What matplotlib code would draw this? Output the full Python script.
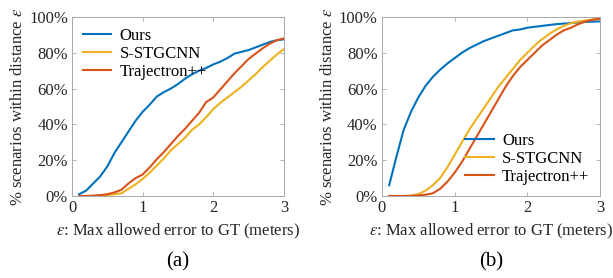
import matplotlib
matplotlib.use('Agg')
import matplotlib.pyplot as plt
import numpy as np
from matplotlib.ticker import PercentFormatter

plt.rcParams['font.family'] = ['Liberation Serif', 'DejaVu Serif']
plt.rcParams['mathtext.fontset'] = 'stix'

x = [round(0.1 * i, 1) for i in range(1, 31)]

# (a)
ours_a = [1, 3, 7, 11, 16.5, 24, 30, 36, 42, 47, 51, 55.5, 58, 60, 62.5, 65.5, 68, 70, 71.5, 73.5,
          75, 77, 79.5, 80.5, 81.5, 83, 84.5, 86, 87, 87.5]
sstgcnn_a = [0, 0, 0, 0.2, 0.5, 1, 1.5, 4, 6.5, 9.5, 13, 17, 21, 25.5, 29, 32.5, 37, 40, 44, 48.5,
             52, 55, 58, 61, 64.5, 68, 72, 75.5, 79, 82]
trajpp_a = [0, 0, 0.2, 0.5, 1, 2, 3.5, 7, 10, 12, 16, 20.5, 24.5, 29, 33.5, 37.5, 42, 46.5, 52.5, 55,
            59.5, 64, 68.5, 72.5, 76.5, 79.5, 82.5, 85, 87, 88]

# (b)
ours_b = [6, 22, 37, 47, 55, 61.5, 66.5, 70.5, 74, 77, 80, 82.5, 84.5, 86.5, 88, 89.5, 91, 92.5, 93, 94,
          94.5, 95, 95.5, 96, 96.3, 96.6, 97, 97.2, 97.4, 97.5]
sstgcnn_b = [0, 0, 0, 0.3, 1, 3, 6, 10, 16, 23, 30, 37, 43, 49, 55, 61, 66, 71, 76, 80,
             84, 87.5, 90.5, 93, 95, 96.5, 97.5, 98, 98.5, 99]
trajpp_b = [0, 0, 0, 0, 0.3, 0.7, 1.5, 4, 8, 13, 19, 26, 33, 40, 47, 54, 61, 67, 72, 76,
            80, 84, 87, 90, 92.5, 94, 96, 97.5, 98.5, 99]

labels = ['Ours', 'S-STGCNN', 'Trajectron++']
colors = ['#0072BD', '#EDB120', '#D95319']

fig = plt.figure(figsize=(6.13, 2.78), dpi=100)
ax1 = fig.add_axes([0.1175, 0.295, 0.3455, 0.644])
ax2 = fig.add_axes([0.623, 0.295, 0.356, 0.644])

def draw(ax, series, legend_loc, tag):
    for ys, lab, c in zip(series, labels, colors):
        ax.plot(x, ys, color=c, lw=1.5, label=lab)
    ax.set_xlim(0, 3)
    ax.set_ylim(0, 100)
    ax.set_xticks([0, 1, 2, 3])
    ax.set_yticks([0, 20, 40, 60, 80, 100])
    ax.yaxis.set_major_formatter(PercentFormatter(decimals=0))
    ax.tick_params(direction='in', length=3, width=0.6, color='#a8a8a8',
                   labelsize=12, labelcolor='#262626', top=True, right=True, pad=3)
    for s in ax.spines.values():
        s.set_color('#a8a8a8')
        s.set_linewidth(0.7)
    ax.set_xlabel(r'$\epsilon$: Max allowed error to GT (meters)', fontsize=12, color='#262626', labelpad=4)
    ax.set_ylabel(r'% scenarios within distance $\epsilon$', fontsize=12, color='#262626', labelpad=2)
    ax.legend(loc=legend_loc, frameon=False, fontsize=12, handlelength=1.7,
              handletextpad=0.5, labelspacing=0.12, borderaxespad=0.25)
    ax.text(0.5, -0.37, tag, transform=ax.transAxes, ha='center', va='center', fontsize=15)

draw(ax1, [ours_a, sstgcnn_a, trajpp_a], 'upper left', '(a)')
draw(ax2, [ours_b, sstgcnn_b, trajpp_b], 'lower right', '(b)')

fig.savefig('out.png', dpi=100)
